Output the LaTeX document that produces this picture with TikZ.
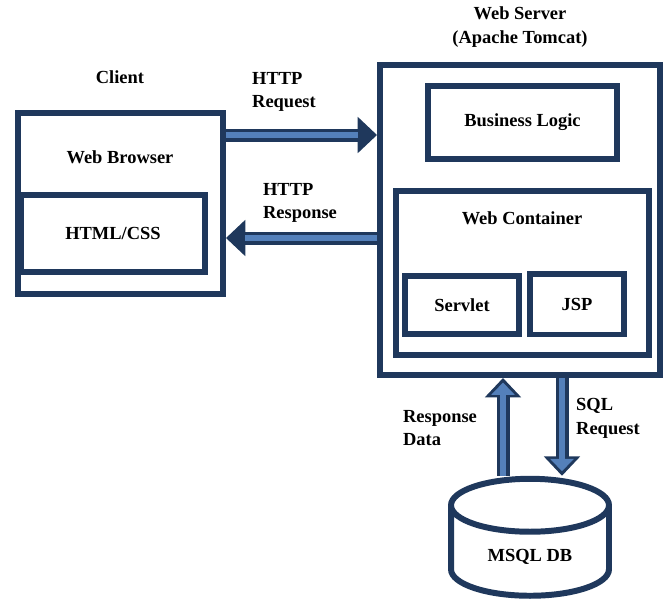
\documentclass[tikz,border=0pt]{standalone}
\usepackage{fontspec}
\setmainfont{Liberation Serif}
\usepackage{xcolor}
\definecolor{webnavy}{RGB}{31, 56, 92}
\definecolor{webblue}{RGB}{84, 128, 186}
\usepackage{tikz}
\usetikzlibrary{
    shapes.geometric,
    arrows.meta,
    calc
}

\tikzset{
    box/.style={draw=webnavy, line width=3.4pt, fill=white},
    lbl/.style={font=\fontsize{10.5}{13.5}\selectfont\bfseries, align=center},
    flow/.style={line width=7.4pt, webnavy, -{Triangle[length=11pt,width=20pt]}},
    flowin/.style={line width=3pt, webblue, shorten >=11pt},
    flowtip/.style={line width=3pt, webblue, shorten >=2.6pt, -{Triangle[length=7pt,width=13pt]}}
}

\begin{document}
\begin{tikzpicture}[x=0.02cm, y=-0.02cm]
    \useasboundingbox (0,0) rectangle (670,603);

    % Client
    \node[lbl] (clientlbl) at (120,77) {Client};
    \node[box, minimum width=4.1cm, minimum height=3.62cm] (client) at (120.5,203.5) {};
    \node[lbl] (browser) at (120,157) {Web Browser};
    \node[box, lbl, minimum width=3.68cm, minimum height=1.54cm] (html) at (113,233.5) {HTML/CSS};

    % Web server
    \node[lbl] (serverlbl) at (520,27) {Web Server\\(Apache Tomcat)};
    \node[box, minimum width=5.6cm, minimum height=6.2cm] (server) at (520,220) {};
    \node[box, lbl, minimum width=3.78cm, minimum height=1.46cm] (logic) at (522.5,122.5) {Business Logic};
    \node[box, minimum width=5.06cm, minimum height=3.28cm] (container) at (522.5,273) {};
    \node[lbl] (containerlbl) at (522,218) {Web Container};
    \node[box, lbl, minimum width=2.28cm, minimum height=1.16cm] (servlet) at (462,305) {Servlet};
    \node[box, lbl, minimum width=1.88cm, minimum height=1.22cm] (jsp) at (577,304) {JSP};

    % Database
    \node[box, lbl, cylinder, shape border rotate=90, aspect=0.55,
          minimum width=3.16cm, minimum height=2.34cm] (db) at (530,557) {MSQL DB};

    % HTTP arrows
    \coordinate (req) at (0,135);
    \coordinate (resp) at (0,238);
    \draw[flow] (client.east |- req) -- (server.west |- req);
    \draw[flowin] (client.east |- req) -- (server.west |- req);
    \draw[flow] (server.west |- resp) -- (client.east |- resp);
    \draw[flowin] (server.west |- resp) -- (client.east |- resp);
    \node[lbl, align=left] (reqlbl) at (284,92) {HTTP\\Request};
    \node[lbl, align=left] (resplbl) at (300,203) {HTTP\\Response};

    % SQL arrows
    \coordinate (up) at (503,0);
    \coordinate (down) at (562,0);
    \draw[flow] (db.north -| up) -- (server.south -| up);
    \draw[flowtip] (db.north -| up) -- (server.south -| up);
    \draw[flow] (server.south -| down) -- (db.north -| down);
    \draw[flowtip] (server.south -| down) -- (db.north -| down);
    \node[lbl, align=left] (datalbl) at (440,428) {Response\\Data};
    \node[lbl, align=left] (sqllbl) at (608,418) {SQL\\Request};
\end{tikzpicture}
\end{document}
